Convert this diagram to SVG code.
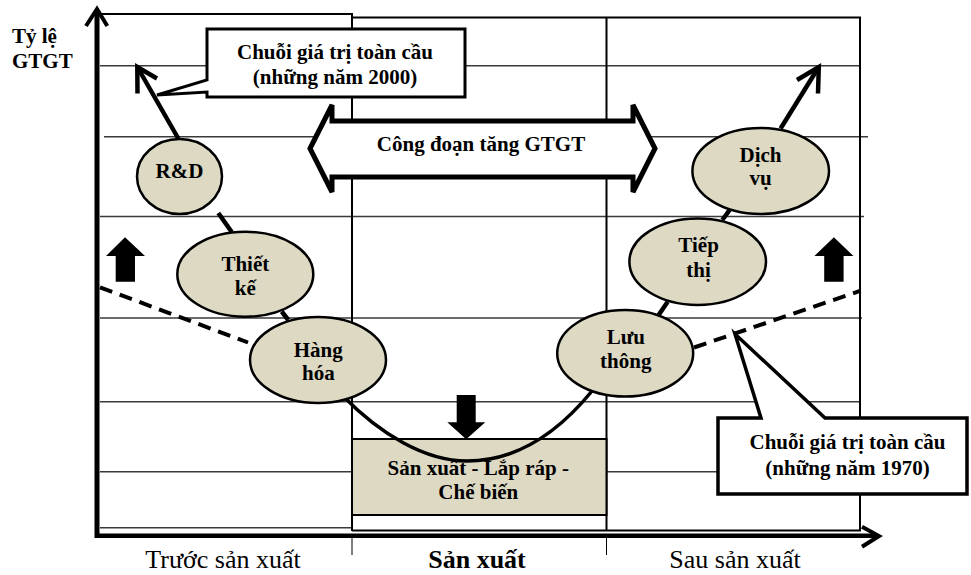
<svg xmlns="http://www.w3.org/2000/svg" width="971" height="575" viewBox="0 0 971 575">
<style>
.grid{stroke:#3a3a3a;stroke-width:1.4;fill:none}
.frame{stroke:#000;stroke-width:2;fill:none}
.node ellipse{fill:#ddd9c3;stroke:#000;stroke-width:2.5}
.b{font-family:"Liberation Serif","Times New Roman",serif;font-weight:bold;font-size:21px;fill:#000;text-anchor:middle}
.r{font-family:"Liberation Serif","Times New Roman",serif;font-size:26px;fill:#000;text-anchor:middle}
.conn{stroke:#000;stroke-width:4.5;fill:none;stroke-linecap:butt}
.chev{stroke:#000;stroke-width:4.5;fill:none;stroke-linejoin:miter}
.dash{stroke:#000;stroke-width:4;fill:none;stroke-dasharray:13 8}
.blk{fill:#000}
</style>
<rect width="971" height="575" fill="#fff"/>
<g id="grid">
<line class="grid" x1="100" y1="65.7" x2="860" y2="65.7"/>
<line class="grid" x1="104" y1="136.7" x2="868" y2="136.7"/>
<line class="grid" x1="100" y1="216.5" x2="864" y2="216.5"/>
<line class="grid" x1="100" y1="318" x2="862" y2="318"/>
<line class="grid" x1="100" y1="401.7" x2="860" y2="401.7"/>
<line class="grid" x1="100" y1="471.7" x2="860" y2="471.7"/>
<line class="grid" x1="100" y1="527.7" x2="352" y2="527.7"/>
<polyline class="frame" points="100,14 352,14 352,531"/>
<polyline class="frame" points="352,17.5 860,17.5 860,530.5 352,530.5"/>
<line class="frame" x1="606.5" y1="17.5" x2="606.5" y2="530.5"/>
</g>
<g id="node-sanxuat"><rect x="352" y="439" width="254.5" height="76" fill="#ddd9c3" stroke="#000" stroke-width="2"/><text class="b" x="478.3" y="475">Sản xuất - Lắp ráp -</text><text class="b" x="478.3" y="499.3">Chế biến</text></g>
<g id="connectors">
<line class="dash" x1="100" y1="287.3" x2="248" y2="342.5"/>
<line class="dash" x1="694" y1="347.5" x2="860.7" y2="290.7"/>
<line class="conn" x1="178.3" y1="138.5" x2="138.5" y2="69"/>
<polyline class="chev" points="137.5,93.5 137.3,67 157,78.5"/>
<line class="conn" x1="780.6" y1="128.5" x2="817.5" y2="69"/>
<polyline class="chev" points="797,80 818.8,67 818,93.5"/>
<line class="conn" x1="218.3" y1="213" x2="231.7" y2="232"/>
<line class="conn" x1="281.7" y1="311.5" x2="288.3" y2="320"/>
<line class="conn" x1="658.6" y1="315" x2="667.7" y2="301.7"/>
<line class="conn" x1="722.3" y1="220" x2="729.6" y2="210"/>
<path class="conn" style="stroke-width:3.5" d="M343,396 C380,434 425,461 467,461 C510,461 552,440 592,391"/>
</g>
<g id="node-rd" class="node"><ellipse cx="179.5" cy="176.5" rx="42.5" ry="37.5"/><text class="b" x="179.5" y="178">R&amp;D</text></g>
<g id="node-thietke" class="node"><ellipse cx="245.3" cy="274.2" rx="68" ry="42.5"/><text class="b" x="245.3" y="271">Thiết</text><text class="b" x="245.3" y="295">kế</text></g>
<g id="node-hanghoa" class="node"><ellipse cx="318" cy="360" rx="68" ry="43"/><text class="b" x="318.3" y="356.7">Hàng</text><text class="b" x="318.3" y="380">hóa</text></g>
<g id="node-luuthong" class="node"><ellipse cx="625.2" cy="353.3" rx="68" ry="43.3"/><text class="b" x="625.8" y="344">Lưu</text><text class="b" x="625.8" y="368.3">thông</text></g>
<g id="node-tiepthi" class="node"><ellipse cx="697.7" cy="261.7" rx="68.3" ry="43.3"/><text class="b" x="698.6" y="252.3">Tiếp</text><text class="b" x="698.6" y="276.7">thị</text></g>
<g id="node-dichvu" class="node"><ellipse cx="760.7" cy="171" rx="68.3" ry="43"/><text class="b" x="760.5" y="161.7">Dịch</text><text class="b" x="760.5" y="185">vụ</text></g>
<g id="arrow-down"><polygon class="blk" points="456.7,395 475.7,395 475.7,422.3 485.3,422.3 466.2,439.3 447.3,422.3 456.7,422.3"/></g>
<g id="arrow-up-left"><polygon class="blk" points="115.7,281.7 135,281.7 135,256 145,256 125,237.3 106,256 115.7,256"/></g>
<g id="arrow-up-right"><polygon class="blk" points="824.2,281.7 843.6,281.7 843.6,256 853.4,256 833.9,237.3 814.4,256 824.2,256"/></g>
<g id="callout-2000"><path d="M207,29 H465 V97 H207 V92 L157,95 L207,80 Z" fill="#fff" stroke="#000" stroke-width="3" stroke-linejoin="miter"/><text class="b" x="335" y="59.3">Chuỗi giá trị toàn cầu</text><text class="b" x="335" y="83.5">(những năm 2000)</text></g>
<g id="callout-1970"><path d="M718,418 H761 L735,334 L825,418 H967 V494 H718 Z" fill="#fff" stroke="#000" stroke-width="3.5" stroke-linejoin="miter"/><text class="b" x="847.5" y="449.3">Chuỗi giá trị toàn cầu</text><text class="b" x="847.5" y="475">(những năm 1970)</text></g>
<g id="double-arrow"><polygon points="310,148.5 332,105 332,121 633,121 633,105 655,148.5 633,192 633,177 332,177 332,192" fill="#fff" stroke="#000" stroke-width="5" stroke-linejoin="miter"/><text class="b" x="481" y="150.7">Công đoạn tăng GTGT</text></g>
<g id="axes">
<line x1="97" y1="10" x2="97" y2="538" stroke="#000" stroke-width="5"/>
<polyline class="chev" points="86,26 97,9 107.3,26" style="stroke-width:4"/>
<line x1="95" y1="535.8" x2="877" y2="535.8" stroke="#000" stroke-width="4.5"/>
<polyline class="chev" points="862,526.7 879,536 862,546.7" style="stroke-width:4"/>
<line x1="352" y1="538" x2="352" y2="555" stroke="#000" stroke-width="1"/>
<line x1="606.5" y1="538" x2="606.5" y2="555" stroke="#000" stroke-width="1"/>
</g>
<g id="labels">
<text class="b" x="12" y="43" style="text-anchor:start">Tỷ lệ</text>
<text class="b" x="12" y="68" style="text-anchor:start">GTGT</text>
<text class="r" x="223" y="568">Trước sản xuất</text>
<text class="r" x="477" y="568" style="font-weight:bold">Sản xuất</text>
<text class="r" x="735" y="568">Sau sản xuất</text>
</g>
</svg>
